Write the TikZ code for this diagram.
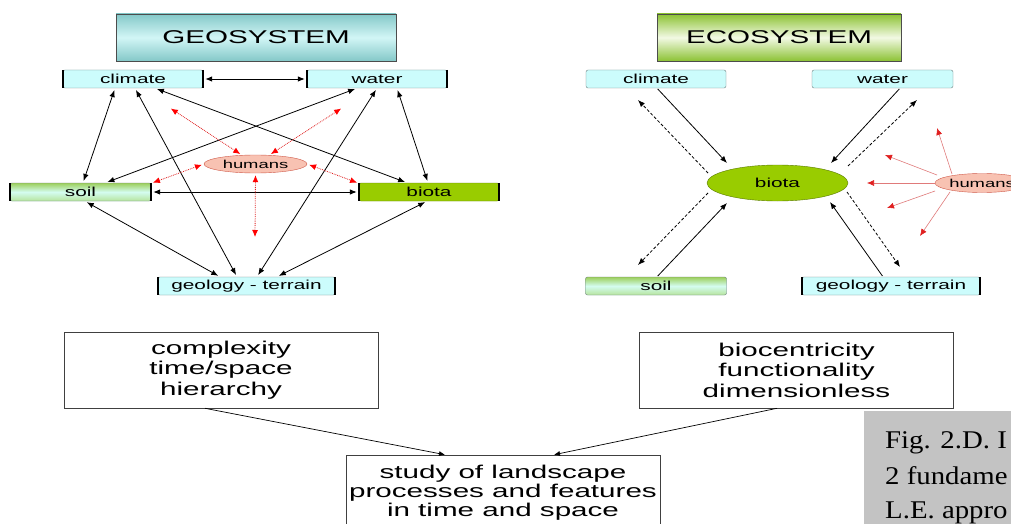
\documentclass[tikz,border=0pt]{standalone}
\usepackage{fontspec}
\setmainfont{Liberation Sans}
\newfontfamily\wsans[FakeStretch=1.6]{Liberation Sans}
\newfontfamily\capfont[FakeStretch=1.13]{Liberation Serif}
\usetikzlibrary{arrows.meta,shapes.geometric,calc}
\definecolor{boxcyan}{HTML}{CCFCFC}
\definecolor{boxedge}{HTML}{6F7F7F}
\definecolor{biogreen}{HTML}{99CC00}
\definecolor{bioedge}{HTML}{5A7A00}
\definecolor{humfill}{HTML}{F8C2B2}
\definecolor{humedge}{HTML}{D05A4A}
\definecolor{redarrow}{HTML}{E02020}
\definecolor{redline}{HTML}{E07A7A}
\definecolor{tealdark}{HTML}{84C8C8}
\definecolor{teallight}{HTML}{D2F6F6}
\definecolor{greendark}{HTML}{8CC234}
\definecolor{greenlight}{HTML}{F2F9E4}
\definecolor{soiltop}{HTML}{9CCF5C}
\definecolor{soilmid}{HTML}{D4FCF0}
\definecolor{soilbot}{HTML}{B6E49E}
\definecolor{capgray}{HTML}{C3C3C3}
\newcommand\sidebars[1]{\draw[line width=1.6pt,black] (#1.north west) -- (#1.south west) (#1.north east) -- (#1.south east);}
\begin{document}
\begin{tikzpicture}[x=1pt,y=-1pt,
  smallfont/.style={font=\wsans\fontsize{13}{13}\selectfont},
  sbox/.style={smallfont,draw=boxedge,fill=boxcyan,rounded corners=2pt,minimum width=140pt,minimum height=18pt,inner sep=0pt},
  soilbox/.style={sbox,top color=soiltop,bottom color=soilbot,middle color=soilmid,minimum width=141pt},
  biobox/.style={sbox,fill=biogreen,draw=bioedge},
  titlebox/.style={draw=black!70,line width=0.8pt,minimum height=47pt,inner sep=0pt,font=\wsans\fontsize{18.5}{18.5}\selectfont},
  gtitlest/.style={titlebox,top color=tealdark,bottom color=tealdark,middle color=teallight,minimum width=280pt},
  etitlest/.style={titlebox,top color=greendark,bottom color=greendark,middle color=greenlight,minimum width=244pt},
  hum/.style={ellipse,draw=humedge,fill=humfill,inner sep=0pt,minimum width=103pt,minimum height=18pt,font=\wsans\fontsize{11.5}{11.5}\selectfont},
  ebiost/.style={ellipse,draw=bioedge,fill=biogreen,inner sep=0pt,minimum width=141pt,minimum height=36pt,smallfont},
  tip/.tip={Latex[length=7pt,width=5.5pt]},
  dbl/.style={draw=black,line width=0.8pt,tip-tip,shorten <=2pt,shorten >=2pt},
  sarr/.style={draw=black,line width=0.8pt,-tip,shorten <=1pt},
  darr/.style={draw=black,line width=0.8pt,dash pattern=on 3pt off 2pt,-tip},
  rtip/.tip={Latex[length=7pt,width=6pt]},
  redd/.style={draw=redarrow,densely dotted,line width=0.8pt,{rtip[red]}-{rtip[red]},shorten <=2pt,shorten >=1pt},
  redone/.style={draw=redline,line width=0.6pt,-{rtip[redarrow]}},
  bbox/.style={draw=black!75,line width=0.6pt,fill=white,minimum width=314pt,minimum height=76pt,inner sep=0pt,align=center},
  bfont/.style={font=\wsans\fontsize{18.5}{20.5}\selectfont},
  barr/.style={draw=black,line width=0.7pt,-{Latex[length=6pt,width=5pt]}},
  captxt/.style={anchor=base west,inner sep=0pt,font=\capfont\fontsize{25.5}{25.5}\selectfont}
]
\useasboundingbox (0,0) rectangle (1011,524);
\clip (0,0) rectangle (1011,524);
\fill[white] (0,0) rectangle (1011,524);

% ---------- GEOSYSTEM ----------
\node[gtitlest] (gtitle) at (256,37.5) {GEOSYSTEM};
\node[sbox] (gclim) at (133,79) {climate};
\node[sbox] (gwater) at (377,79) {water};
\node[soilbox] (gsoil) at (80.5,192) {soil};
\node[biobox] (gbio) at (429,192) {biota};
\node[sbox,minimum width=177pt] (ggeo) at (246.5,286) {geology - terrain};
\sidebars{gclim}\sidebars{gwater}\sidebars{gsoil}\sidebars{gbio}\sidebars{ggeo}

\draw[dbl] (gclim) -- (gwater);
\draw[dbl] ([xshift=-18pt]gclim.south) -- ([xshift=2.5pt]gsoil.north);
\draw[dbl] ([xshift=2pt]gclim.south) -- ([xshift=-9.5pt]ggeo.north);
\draw[dbl] ([xshift=22pt]gclim.south) -- ([xshift=-22pt]gbio.north);
\draw[dbl] ([xshift=-20pt]gwater.south) -- ([xshift=25pt]gsoil.north);
\draw[dbl] (gwater.south) -- ([xshift=10.5pt]ggeo.north);
\draw[dbl] ([xshift=20pt]gwater.south) -- ([xshift=-1pt]gbio.north);
\draw[dbl] (gsoil) -- (gbio);
\draw[dbl] ([xshift=4.5pt]gsoil.south) -- ([xshift=-26.5pt]ggeo.north);
\draw[dbl] ([xshift=-2pt]gbio.south) -- ([xshift=30.5pt]ggeo.north);

\node[hum] (ghum) at (255.5,164) {humans};
\coordinate (r1) at (170,108);
\coordinate (r2) at (342,108);
\coordinate (r3) at (152,183);
\coordinate (r4) at (358,183);
\coordinate (r5) at (255,238);
\draw[redd] (ghum) -- (r1);
\draw[redd] (ghum) -- (r2);
\draw[redd] (ghum.west) -- (r3);
\draw[redd] (ghum.east) -- (r4);
\draw[redd] (ghum.south) -- (r5);

% ---------- ECOSYSTEM ----------
\node[etitlest] (etitle) at (779,37.5) {ECOSYSTEM};
\node[sbox] (eclim) at (656,79) {climate};
\node[sbox,minimum width=141pt] (ewater) at (882.5,79) {water};
\node[soilbox] (esoil) at (656,286) {soil};
\node[sbox,minimum width=178pt] (egeo) at (891,286) {geology - terrain};
\sidebars{egeo}
\node[ebiost] (ebio) at (777.5,183) {biota};

\coordinate (d1) at (638,100);
\coordinate (d2) at (917,100);
\coordinate (d3) at (638,265);
\coordinate (d4) at (900,267);
\draw[sarr] ([xshift=1pt]eclim.south) -- ($(ebio)+(-50.5,-20)$);
\draw[darr] ($(ebio)+(-69.5,-10)$) -- (d1);
\draw[sarr] ([xshift=17.5pt]ewater.south) -- ($(ebio)+(53.5,-20)$);
\draw[darr] ($(ebio)+(70.5,-17)$) -- (d2);
\draw[sarr] ([xshift=1pt]esoil.north) -- ($(ebio)+(-50.5,20)$);
\draw[darr] ($(ebio)+(-69.5,10)$) -- (d3);
\draw[sarr] ([xshift=-8pt]egeo.north) -- ($(ebio)+(52.5,19)$);
\draw[darr] ($(ebio)+(69.5,9)$) -- (d4);

\node[hum,minimum width=94pt,minimum height=19pt] (ehum) at (982,183) {humans};
\coordinate (h1) at (867,183);
\coordinate (h2) at (937,128);
\coordinate (h3) at (885,155);
\coordinate (h4) at (887,208);
\coordinate (h5) at (920,236);
\draw[redone] (ehum.west) -- (h1);
\draw[redone] ($(ehum)+(-30,-9)$) -- (h2);
\draw[redone] ($(ehum)+(-45,-8)$) -- (h3);
\draw[redone] ($(ehum)+(-47,8)$) -- (h4);
\draw[redone] ($(ehum)+(-32,9)$) -- (h5);

% ---------- bottom ----------
\node[bbox,bfont] (cx) at (221,370) {complexity\\time/space\\hierarchy};
\node[bbox,bfont] (bc) at (796.5,370) {biocentricity\\functionality\\dimensionless};
\node[bbox,font=\wsans\fontsize{18.5}{18.8}\selectfont] (st) at (503,493) {study of landscape\\processes and features\\in time and space};
\draw[barr] ([xshift=-16pt]cx.south) -- ([xshift=-58pt]st.north);
\draw[barr] ([xshift=-19.5pt]bc.south) -- ([xshift=51pt]st.north);

% ---------- caption ----------
\fill[capgray] (864,411) rectangle (1020,530);
\node[captxt] (c1) at (885,448) {Fig. 2.D. I};
\node[captxt] (c2) at (885,484) {2 fundame};
\node[captxt] (c3) at (885,518) {L.E. appro};
\end{tikzpicture}
\end{document}
